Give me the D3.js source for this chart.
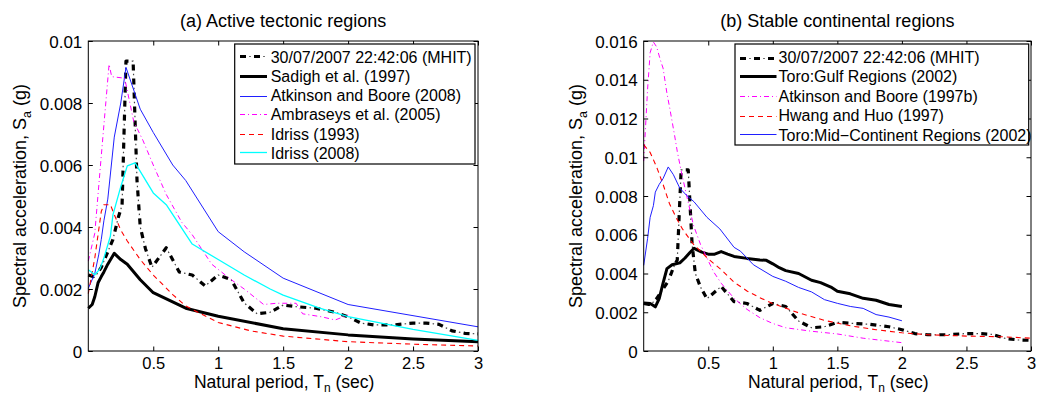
<!DOCTYPE html>
<html>
<head>
<meta charset="utf-8">
<script src="https://cdn.jsdelivr.net/npm/d3@7"></script>
<style>
  html, body { margin: 0; padding: 0; background: #fff; }
  svg { display: block; font-family: "Liberation Sans", Arial, Helvetica, sans-serif; }
</style>
</head>
<body>
<svg id="chart" width="1037" height="394"></svg>
<script>
// ---- Recorded event: 30/07/2007 22:42:06 (MHIT) ----
const mhitT  = [0, 0.04, 0.07, 0.1, 0.15, 0.19, 0.23, 0.26, 0.29, 0.345, 0.375, 0.4, 0.44, 0.49, 0.6, 0.7, 0.8, 0.9, 1.0, 1.1, 1.2, 1.3, 1.4, 1.5, 1.6, 1.75, 1.9, 2.0, 2.1, 2.2, 2.35, 2.5, 2.6, 2.7, 2.8, 2.9, 3.0];
const mhitSa = [0.00245, 0.0024, 0.0025, 0.0027, 0.0032, 0.0036, 0.0043, 0.0047, 0.00935, 0.00935, 0.0055, 0.004, 0.0033, 0.0027, 0.00333, 0.00255, 0.00245, 0.0021, 0.00245, 0.0023, 0.00155, 0.0012, 0.00125, 0.00148, 0.00143, 0.00138, 0.00125, 0.0011, 0.0009, 0.00084, 0.00084, 0.0009, 0.0009, 0.00086, 0.00065, 0.00057, 0.00055];

// ---- (a) Active tectonic regions ----
const sadighT  = [0, 0.03, 0.05, 0.075, 0.1, 0.12, 0.15, 0.2, 0.25, 0.3, 0.4, 0.5, 0.75, 1.0, 1.5, 2.0, 2.5, 3.0];
const sadighSa = [0.00138, 0.0015, 0.00175, 0.0022, 0.0024, 0.00255, 0.0028, 0.00315, 0.00295, 0.0028, 0.0023, 0.00188, 0.00138, 0.00112, 0.00072, 0.00052, 0.00039, 0.0003];

const ab08T  = [0, 0.05, 0.08, 0.1, 0.12, 0.15, 0.2, 0.25, 0.29, 0.4, 0.5, 0.65, 0.75, 1.0, 1.2, 1.5, 2.0, 3.0];
const ab08Sa = [0.00202, 0.0025, 0.0031, 0.0036, 0.0042, 0.0049, 0.0069, 0.008, 0.00915, 0.0078, 0.00705, 0.006, 0.0055, 0.00385, 0.0032, 0.00235, 0.0015, 0.00078];

const ambT  = [0, 0.05, 0.1, 0.16, 0.18, 0.28, 0.35, 0.42, 0.5, 0.6, 0.72, 0.8, 0.95, 1.1, 1.2, 1.35, 1.45, 1.6, 1.65, 1.8, 1.9, 2.0];
const ambSa = [0.0029, 0.0038, 0.0063, 0.00925, 0.00885, 0.0088, 0.0074, 0.0068, 0.006, 0.00505, 0.00415, 0.00375, 0.0028, 0.0023, 0.002, 0.0015, 0.00154, 0.00154, 0.0012, 0.0011, 0.001, 0.00116];

const idr93T  = [0, 0.05, 0.1, 0.12, 0.17, 0.2, 0.25, 0.3, 0.4, 0.5, 0.65, 0.75, 1.0, 1.25, 1.5, 2.0, 2.5, 3.0];
const idr93Sa = [0.00185, 0.003, 0.0045, 0.00472, 0.00472, 0.0044, 0.0039, 0.00355, 0.00295, 0.00245, 0.00182, 0.00145, 0.00092, 0.00065, 0.00048, 0.0003, 0.00022, 0.00016];

const idr08T  = [0, 0.05, 0.09, 0.12, 0.17, 0.19, 0.25, 0.3, 0.36, 0.5, 0.6, 0.8, 1.0, 1.2, 1.4, 1.5, 1.78, 2.0, 2.5, 3.0];
const idr08Sa = [0.00262, 0.00246, 0.00265, 0.003, 0.0037, 0.0044, 0.0053, 0.00597, 0.00607, 0.0051, 0.00472, 0.00345, 0.00295, 0.00245, 0.002, 0.0018, 0.00138, 0.00111, 0.0007, 0.00034];

// ---- (b) Stable continental regions ----
const toroGulfT  = [0, 0.05, 0.075, 0.09, 0.12, 0.15, 0.18, 0.22, 0.28, 0.32, 0.36, 0.39, 0.45, 0.5, 0.55, 0.6, 0.65, 0.7, 0.8, 0.9, 0.95, 1.0, 1.05, 1.1, 1.2, 1.3, 1.37, 1.45, 1.5, 1.6, 1.7, 1.8, 1.9, 2.0];
const toroGulfSa = [0.00248, 0.00245, 0.00235, 0.00228, 0.0027, 0.0035, 0.00425, 0.00445, 0.00455, 0.0048, 0.0051, 0.0053, 0.0051, 0.005, 0.005, 0.00513, 0.005, 0.00488, 0.00478, 0.0047, 0.00468, 0.0045, 0.0043, 0.00415, 0.004, 0.00365, 0.00353, 0.0033, 0.00308, 0.00295, 0.00272, 0.00262, 0.0024, 0.0023];

const ab97T  = [0, 0.03, 0.05, 0.075, 0.1, 0.13, 0.15, 0.18, 0.2, 0.24, 0.26, 0.29, 0.33, 0.385, 0.44, 0.54, 0.6, 0.7, 0.8, 0.9, 1.0, 1.1, 1.3, 1.5, 1.7, 2.0];
const ab97Sa = [0.0098, 0.0135, 0.0154, 0.01595, 0.0157, 0.015, 0.0146, 0.0133, 0.0126, 0.0111, 0.0103, 0.0093, 0.0081, 0.0065, 0.0055, 0.0041, 0.0035, 0.00272, 0.00215, 0.00172, 0.00142, 0.0012, 0.00102, 0.00088, 0.00066, 0.00043];

const hwangT  = [0, 0.03, 0.05, 0.1, 0.15, 0.2, 0.25, 0.3, 0.38, 0.5, 0.6, 0.7, 0.8, 0.9, 1.0, 1.2, 1.4, 1.6, 1.8, 2.0, 2.2, 2.5, 2.8, 3.0];
const hwangSa = [0.01065, 0.0104, 0.01025, 0.0095, 0.0086, 0.0076, 0.0069, 0.0063, 0.00555, 0.00475, 0.0042, 0.00355, 0.0031, 0.00275, 0.00245, 0.00197, 0.00158, 0.0013, 0.0011, 0.00094, 0.00084, 0.00077, 0.00073, 0.00066];

const toroMidT  = [0, 0.03, 0.05, 0.075, 0.09, 0.12, 0.15, 0.19, 0.23, 0.28, 0.33, 0.39, 0.49, 0.59, 0.7, 0.75, 0.85, 1.0, 1.1, 1.2, 1.3, 1.4, 1.5, 1.6, 1.7, 1.8, 1.9, 2.0];
const toroMidSa = [0.00442, 0.0058, 0.0069, 0.0075, 0.0082, 0.0086, 0.0089, 0.0095, 0.0091, 0.0084, 0.00805, 0.0077, 0.0069, 0.0063, 0.00535, 0.00515, 0.00445, 0.00385, 0.0036, 0.00328, 0.00305, 0.00265, 0.00246, 0.0023, 0.0022, 0.00188, 0.00175, 0.00156];

// ---- Axis ticks ----
const xTicks      = [0.5, 1, 1.5, 2, 2.5, 3];
const xTickLabels = ["0.5", "1", "1.5", "2", "2.5", "3"];
const yTicksA      = [0, 0.002, 0.004, 0.006, 0.008, 0.01];
const yTickLabelsA = ["0", "0.002", "0.004", "0.006", "0.008", "0.01"];
const yTicksB      = [0, 0.002, 0.004, 0.006, 0.008, 0.01, 0.012, 0.014, 0.016];
const yTickLabelsB = ["0", "0.002", "0.004", "0.006", "0.008", "0.01", "0.012", "0.014", "0.016"];

// ---- Line styles ----
const STYLE = {
  mhit:  { kind: "mhit" },
  thick: { color: "#000000", width: 3, dash: null },
  blue:  { color: "#1f1fff", width: 1, dash: null },
  mag:   { color: "#ff00ff", width: 1, dash: "5,3,1,3" },
  red:   { color: "#ff0000", width: 1.1, dash: "5,4" },
  cyan:  { color: "#00ffff", width: 1.3, dash: null }
};

const svg = d3.select("#chart");

function drawPath(g, pts, x, y, style) {
  const line = d3.line().x(d => x(d[0])).y(d => y(d[1]));
  if (style.kind === "mhit") {
    // thick black dashes with a thin dot in each gap
    g.append("path").attr("d", line(pts)).attr("fill", "none")
      .attr("stroke", "#000").attr("stroke-width", 3.2)
      .attr("stroke-dasharray", "6,8").attr("stroke-linejoin", "round");
    g.append("path").attr("d", line(pts)).attr("fill", "none")
      .attr("stroke", "#444").attr("stroke-width", 1.2)
      .attr("stroke-dasharray", "1.5,12.5").attr("stroke-dashoffset", -9.25);
  } else {
    const p = g.append("path").attr("d", line(pts)).attr("fill", "none")
      .attr("stroke", style.color).attr("stroke-width", style.width)
      .attr("stroke-linejoin", "round");
    if (style.dash) p.attr("stroke-dasharray", style.dash);
  }
}

function panel(cfg) {
  const x = d3.scaleLinear().domain([0, 3]).range([cfg.left, cfg.right]);
  const y = d3.scaleLinear().domain([0, cfg.yMax]).range([cfg.bottom, cfg.top]);
  const g = svg.append("g");

  // curves
  const curves = g.append("g");
  cfg.series.forEach(s => drawPath(curves, d3.zip(s.t, s.v), x, y, s.style));

  // frame and inward ticks on all four sides
  const fr = g.append("g");
  fr.append("rect").attr("x", cfg.left).attr("y", cfg.top)
    .attr("width", cfg.right - cfg.left).attr("height", cfg.bottom - cfg.top)
    .attr("fill", "none").attr("stroke", "#000").attr("stroke-width", 1);

  const tl = 4.5;
  const bottomAxis = d3.axisBottom(x).tickValues(xTicks).tickSize(-tl)
    .tickFormat((d, i) => xTickLabels[i]);
  const ba = fr.append("g").attr("transform", `translate(0,${cfg.bottom})`).call(bottomAxis);
  ba.select(".domain").remove();
  ba.selectAll(".tick line").attr("stroke", "#000");
  ba.selectAll(".tick text").attr("y", 18).attr("dy", 0)
    .attr("font-size", 16.5).attr("fill", "#000").attr("font-family", null);

  const topAxis = d3.axisTop(x).tickValues(xTicks).tickSize(-tl).tickFormat("");
  const ta = fr.append("g").attr("transform", `translate(0,${cfg.top})`).call(topAxis);
  ta.select(".domain").remove();
  ta.selectAll(".tick line").attr("stroke", "#000");

  const leftAxis = d3.axisLeft(y).tickValues(cfg.yTicks).tickSize(-tl)
    .tickFormat((d, i) => cfg.yLabels[i]);
  const la = fr.append("g").attr("transform", `translate(${cfg.left},0)`).call(leftAxis);
  la.select(".domain").remove();
  la.selectAll(".tick line").attr("stroke", "#000");
  la.selectAll(".tick text").attr("x", -6).attr("dy", "0.36em")
    .attr("font-size", 17).attr("fill", "#000").attr("font-family", null);

  const rightAxis = d3.axisRight(y).tickValues(cfg.yTicks).tickSize(-tl).tickFormat("");
  const ra = fr.append("g").attr("transform", `translate(${cfg.right},0)`).call(rightAxis);
  ra.select(".domain").remove();
  ra.selectAll(".tick line").attr("stroke", "#000");

  // title
  g.append("text").attr("x", (cfg.left + cfg.right) / 2).attr("y", 27)
    .attr("text-anchor", "middle").attr("font-size", 18).text(cfg.title);

  // x-axis label
  const xl = g.append("text").attr("x", (cfg.left + cfg.right) / 2 + 1).attr("y", 388)
    .attr("text-anchor", "middle").attr("font-size", 17.5);
  xl.append("tspan").text("Natural period, T");
  xl.append("tspan").attr("dy", 3.5).attr("font-size", 12).text("n");
  xl.append("tspan").attr("dy", -3.5).text(" (sec)");

  // y-axis label
  const yl = g.append("text")
    .attr("transform", `translate(${cfg.yLabelX},${(cfg.top + cfg.bottom) / 2}) rotate(-90)`)
    .attr("text-anchor", "middle").attr("font-size", 18);
  yl.append("tspan").text("Spectral acceleration, S");
  yl.append("tspan").attr("dy", 5).attr("font-size", 12.5).text("a");
  yl.append("tspan").attr("dy", -5).text(" (g)");

  // legend
  const L = cfg.legend;
  const lg = g.append("g");
  lg.append("rect").attr("x", L.x0).attr("y", L.y0)
    .attr("width", L.x1 - L.x0).attr("height", L.y1 - L.y0)
    .attr("fill", "#fff").attr("stroke", "#000").attr("stroke-width", 1.2);
  cfg.series.forEach((s, i) => {
    // keep each sample line on a single even pixel row
    const cy = Math.round((L.row0 + i * L.step) / 2) * 2 + 0.5;
    drawPath(lg, [[0, 0], [1, 0]],
      d3.scaleLinear().domain([0, 1]).range([L.sx0, L.sx1]),
      () => cy, s.style);
    lg.append("text").attr("x", L.tx).attr("y", L.row0 + i * L.step + 6)
      .attr("font-size", 16).text(s.name);
  });
}

panel({
  left: 88.3, right: 478, top: 41, bottom: 351, yMax: 0.01,
  yTicks: yTicksA, yLabels: yTickLabelsA, yLabelX: 25.5,
  title: "(a) Active tectonic regions",
  legend: { x0: 234.7, x1: 475, y0: 44, y1: 164, row0: 56.7, step: 19.2, sx0: 240, sx1: 267, tx: 270.7 },
  series: [
    { name: "30/07/2007 22:42:06 (MHIT)", t: mhitT,   v: mhitSa,   style: STYLE.mhit },
    { name: "Sadigh et al. (1997)",       t: sadighT, v: sadighSa, style: STYLE.thick },
    { name: "Atkinson and Boore (2008)",  t: ab08T,   v: ab08Sa,   style: STYLE.blue },
    { name: "Ambraseys et al. (2005)",    t: ambT,    v: ambSa,    style: STYLE.mag },
    { name: "Idriss (1993)",              t: idr93T,  v: idr93Sa,  style: STYLE.red },
    { name: "Idriss (2008)",              t: idr08T,  v: idr08Sa,  style: STYLE.cyan }
  ]
});

panel({
  left: 643.7, right: 1031, top: 41, bottom: 351, yMax: 0.016,
  yTicks: yTicksB, yLabels: yTickLabelsB, yLabelX: 581.7,
  title: "(b) Stable continental regions",
  legend: { x0: 735, x1: 1028.7, y0: 44, y1: 145, row0: 57, step: 19.4, sx0: 740, sx1: 776.5, tx: 778.5 },
  series: [
    { name: "30/07/2007 22:42:06 (MHIT)",       t: mhitT,     v: mhitSa,     style: STYLE.mhit },
    { name: "Toro:Gulf Regions (2002)",         t: toroGulfT, v: toroGulfSa, style: STYLE.thick },
    { name: "Atkinson and Boore (1997b)",       t: ab97T,     v: ab97Sa,     style: STYLE.mag },
    { name: "Hwang and Huo (1997)",             t: hwangT,    v: hwangSa,    style: STYLE.red },
    { name: "Toro:Mid\u2212Continent Regions (2002)", t: toroMidT, v: toroMidSa, style: STYLE.blue }
  ]
});
</script>
</body>
</html>
